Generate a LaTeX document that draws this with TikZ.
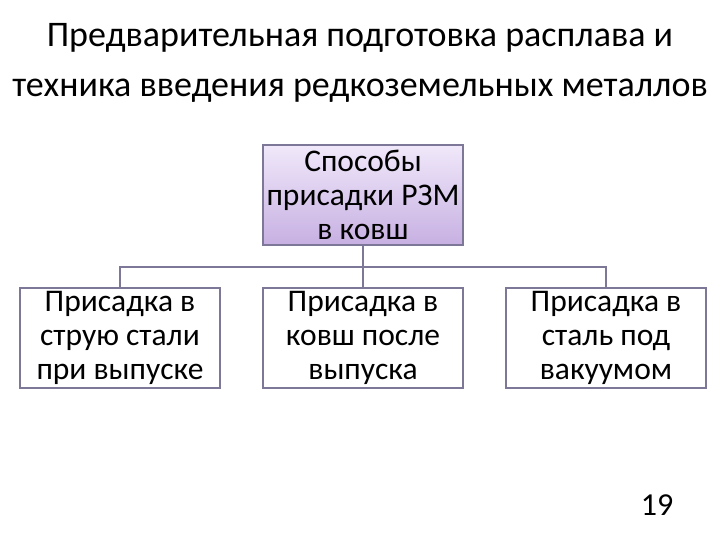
\documentclass[tikz,border=0pt]{standalone}
\usepackage{fontspec}
\setmainfont{Carlito}
\usepackage{xcolor}
\usetikzlibrary{positioning}
\definecolor{boxline}{HTML}{7D7898}
\definecolor{lilactop}{HTML}{F0E8FA}
\definecolor{lilacbot}{HTML}{C7B0E2}

\begin{document}
\begin{tikzpicture}[
    x=1pt, y=-1pt,
    every node/.style={font=\fontsize{31.5}{34}\selectfont},
    method/.style={draw=boxline, line width=1.2pt, rectangle, minimum width=200pt,
                   minimum height=100pt, align=center, inner sep=2pt, fill=white},
    root/.style={method, top color=lilactop, bottom color=lilacbot},
    link/.style={draw=boxline, line width=1.2pt}
]
\useasboundingbox (0,0) rectangle (720,540);

% Title
\node[font=\fontsize{36}{50}\selectfont, align=center] (title) at (360,63)
  {Предварительная подготовка расплава и\\техника введения редкоземельных металлов};

% Root
\node[root] (ways) at (363,195) {Способы\\присадки РЗМ\\в ковш};

% Methods
\node[method] (stream) at (120,338) {Присадка в\\струю стали\\при выпуске};
\node[method] (ladle) at (363,338) {Присадка в\\ковш после\\выпуска};
\node[method] (vacuum) at (606,338) {Присадка в\\сталь под\\вакуумом};

\coordinate (bus) at (363,267);
\draw[link] (ways.south) -- (bus);
\draw[link] (stream.north) |- (bus) -| (vacuum.north);
\draw[link] (bus) -- (ladle.north);

\node[font=\fontsize{32}{34}\selectfont] (page) at (657,505) {19};

\end{tikzpicture}
\end{document}
